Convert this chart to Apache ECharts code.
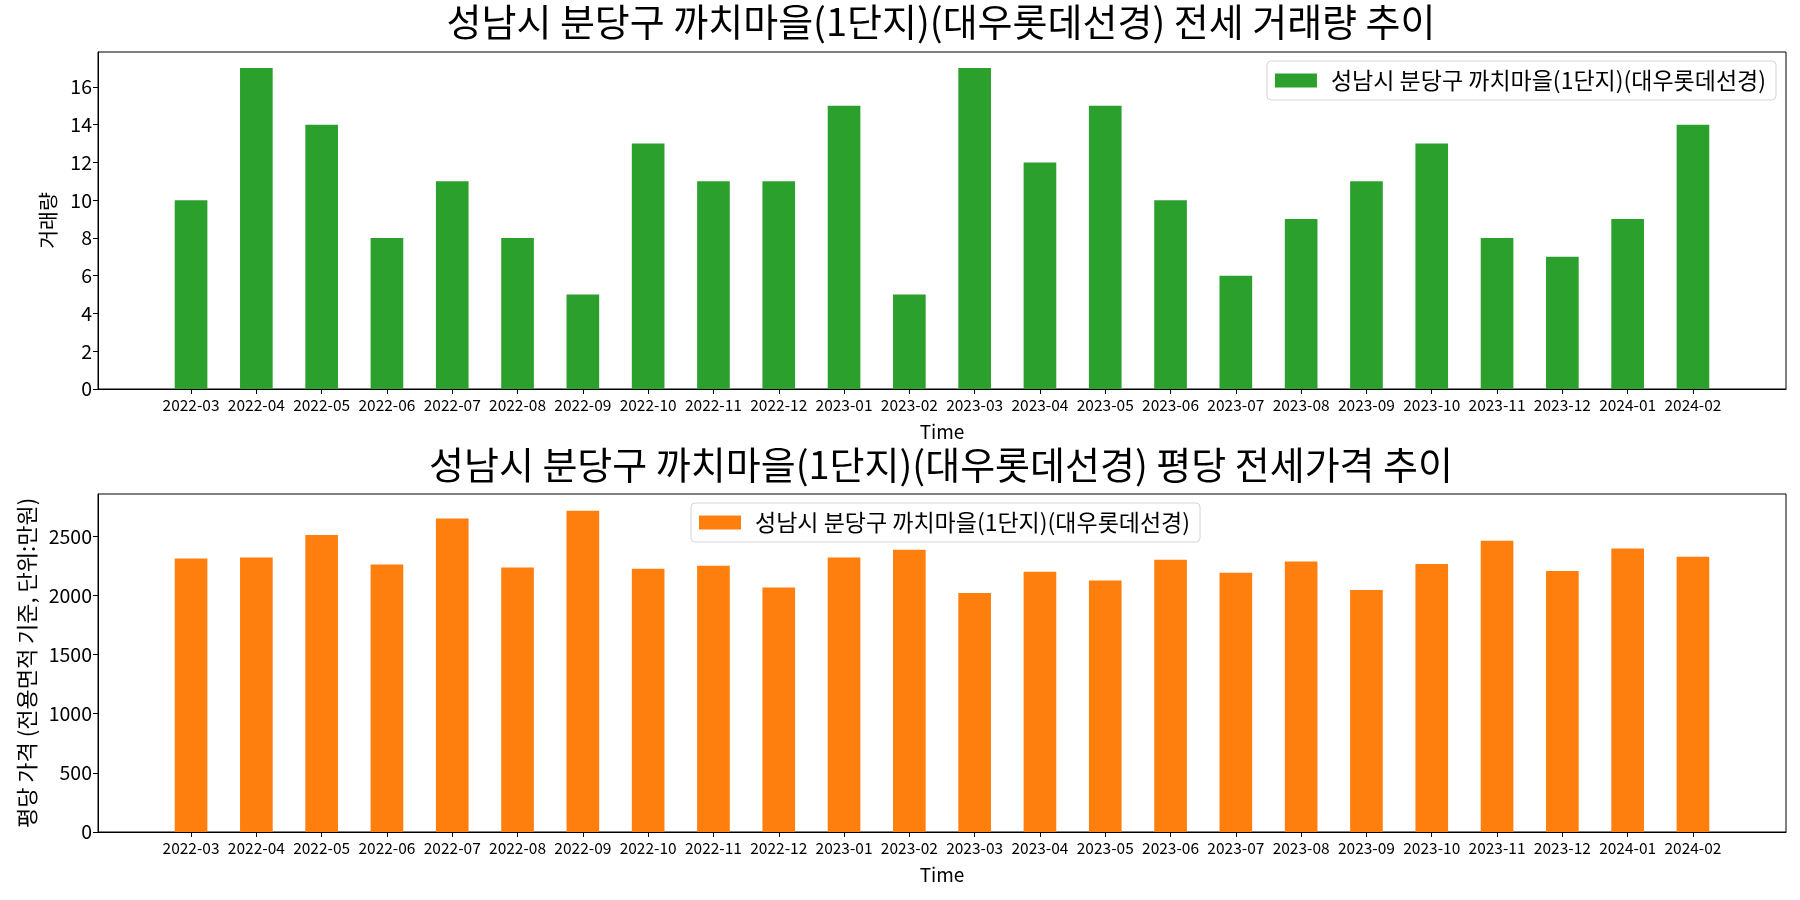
<!DOCTYPE html>
<html>
<head>
<meta charset="utf-8">
<script src="https://cdn.jsdelivr.net/npm/echarts@6/dist/echarts.min.js"></script>
<style>
html,body{margin:0;padding:0;background:#fff;}
#c{width:1800px;height:900px;}
</style>
</head>
<body>
<div id="c"></div>
<script>
const categories = ['2022-03','2022-04','2022-05','2022-06','2022-07','2022-08','2022-09','2022-10','2022-11','2022-12','2023-01','2023-02','2023-03','2023-04','2023-05','2023-06','2023-07','2023-08','2023-09','2023-10','2023-11','2023-12','2024-01','2024-02'];
const volumes = [10,17,14,8,11,8,5,13,11,11,15,5,17,12,15,10,6,9,11,13,8,7,9,14];
const prices = [2310,2320,2510,2260,2650,2235,2715,2225,2250,2065,2320,2385,2020,2200,2125,2300,2190,2285,2045,2265,2460,2205,2395,2325];
const volTicks = [0,2,4,6,8,10,12,14,16];
const priceTicks = [0,500,1000,1500,2000,2500];
const seriesLabel = '성남시 분당구 까치마을(1단지)(대우롯데선경)';
const title1 = '성남시 분당구 까치마을(1단지)(대우롯데선경) 전세 거래량 추이';
const title2 = '성남시 분당구 까치마을(1단지)(대우롯데선경) 평당 전세가격 추이';
const volName = '거래량';
const priceName = '평당 가격 (전용면적 기준, 단위:만원)';
const xName = 'Time';

const FONT = '"Noto Sans CJK KR", "Noto Sans", sans-serif';
const chart = echarts.init(document.getElementById('c'), null, {renderer:'canvas'});
const n = categories.length;
const pad = 0.05 * (n - 1 + 0.5);
const xMin = -0.25 - pad, xMax = n - 1 + 0.25 + pad;
const idx = categories.map((_, i) => i);
const plotW = 1800 - 98 - 14;
const barW = 0.5 * plotW / (xMax - xMin);

function xAxis(gi) {
  return {
    type: 'value', gridIndex: gi, min: xMin, max: xMax,
    name: xName, nameLocation: 'middle', nameGap: 33,
    nameTextStyle: {fontSize: 19, color: '#000', fontFamily: FONT},
    axisLine: {show: true, onZero: false, lineStyle: {color: '#000', width: 1}},
    axisTick: {show: true, customValues: idx, length: 5, lineStyle: {color: '#000'}},
    axisLabel: {show: true, customValues: idx, formatter: v => categories[Math.round(v)], fontSize: 15.5, color: '#000', margin: 8, fontFamily: FONT},
    splitLine: {show: false}
  };
}
function yAxis(gi, max, ticks, name, gap, nameSize) {
  return {
    type: 'value', gridIndex: gi, min: 0, max: max,
    name: name, nameLocation: 'middle', nameGap: gap,
    nameTextStyle: {fontSize: nameSize, color: '#000', fontFamily: FONT},
    axisLine: {show: true, onZero: false, lineStyle: {color: '#000', width: 1}},
    axisTick: {show: true, customValues: ticks, length: 5, lineStyle: {color: '#000'}},
    axisLabel: {show: true, customValues: ticks, formatter: v => String(v), fontSize: 19.5, color: '#000', margin: 6, fontFamily: FONT},
    splitLine: {show: false}
  };
}
function legend(color, pos) {
  return Object.assign({
    data: [{name: pos.key, itemStyle: {color: color}}],
    formatter: () => seriesLabel,
    icon: 'rect', itemWidth: 42, itemHeight: 14,
    orient: 'horizontal',
    padding: [8, 10, 8, 8],
    backgroundColor: 'rgba(255,255,255,0.8)',
    borderColor: '#d5d5d5', borderWidth: 1, borderRadius: 4,
    textStyle: {fontSize: 23, color: '#000', fontFamily: FONT, padding: [0, 0, 0, 9]},
    selectedMode: false
  }, pos.place);
}

const option = {
  animation: false,
  backgroundColor: '#fff',
  textStyle: {fontFamily: FONT},
  title: [
    {text: title1, left: 941, textAlign: 'center', top: 3, padding: 0, textStyle: {fontSize: 38, fontWeight: 'normal', color: '#000', fontFamily: FONT}},
    {text: title2, left: 941, textAlign: 'center', top: 446, padding: 0, textStyle: {fontSize: 38, fontWeight: 'normal', color: '#000', fontFamily: FONT}}
  ],
  legend: [
    legend('#2ca02c', {key: 'vol', place: {right: 24, top: 61}}),
    legend('#ff7f0e', {key: 'price', place: {left: 691, top: 503}})
  ],
  grid: [
    {left: 98, right: 14, top: 52, height: 337, show: true, borderColor: '#000', borderWidth: 1, backgroundColor: 'transparent'},
    {left: 98, right: 14, top: 494, height: 338, show: true, borderColor: '#000', borderWidth: 1, backgroundColor: 'transparent'}
  ],
  xAxis: [xAxis(0), xAxis(1)],
  yAxis: [
    yAxis(0, 17.85, volTicks, volName, 40, 20.5),
    yAxis(1, 2856, priceTicks, priceName, 59, 22)
  ],
  series: [
    {name: 'vol', type: 'bar', xAxisIndex: 0, yAxisIndex: 0, barWidth: barW,
     itemStyle: {color: '#2ca02c'}, data: volumes.map((v, i) => [i, v])},
    {name: 'price', type: 'bar', xAxisIndex: 1, yAxisIndex: 1, barWidth: barW,
     itemStyle: {color: '#ff7f0e'}, data: prices.map((v, i) => [i, v])}
  ]
};
chart.setOption(option);
</script>
</body>
</html>
